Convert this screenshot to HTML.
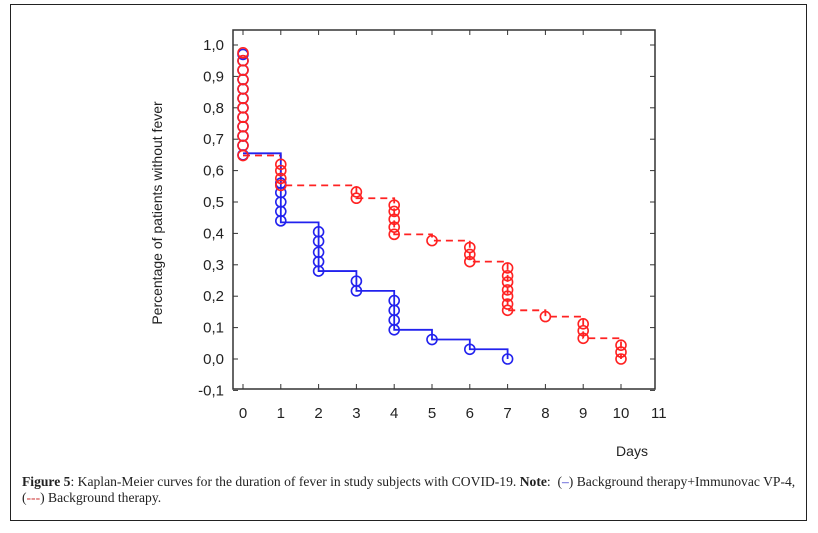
<!DOCTYPE html>
<html><head><meta charset="utf-8"><style>
body{margin:0;background:#fff;width:818px;height:533px;overflow:hidden}
#box{position:absolute;left:10px;top:4px;width:797px;height:517px;border:1px solid #222;box-sizing:border-box}
#cap{position:absolute;left:22px;top:474px;width:790px;font:13.6px "Liberation Serif",serif;line-height:16px;color:#222;white-space:nowrap}
</style></head><body>
<div id="box"></div>
<svg id="chart" width="818" height="533" style="position:absolute;left:0;top:0"></svg>
<div id="cap"><b>Figure 5</b>: Kaplan-Meier curves for the duration of fever in study subjects with COVID-19. <b>Note</b>: &nbsp;(<span style="color:#33c">–</span>) Background therapy+Immunovac VP-4,<br>(<span style="color:#c33">---</span>) Background therapy.</div>
<script>
const xTicks=[0,1,2,3,4,5,6,7,8,9,10,11];
const yTicks=[-0.1,0,0.1,0.2,0.3,0.4,0.5,0.6,0.7,0.8,0.9,1.0];
const blueStepT=[0,1,2,3,4,5,6,7];
const blueStepS=[0.655,0.435,0.28,0.217,0.093,0.062,0.031,0];
const blueCensT=[0,0,0,0,0,0,0,0,0,0,0,0,1,1,1,1,1,2,2,2,2,2,3,3,4,4,4,4,5,6,7];
const blueCensS=[0.65,0.68,0.71,0.74,0.77,0.8,0.83,0.86,0.89,0.92,0.95,0.97,0.44,0.47,0.5,0.53,0.56,0.28,0.31,0.34,0.375,0.405,0.217,0.248,0.093,0.124,0.155,0.186,0.062,0.031,0];
const redStepT=[0,1,3,4,5,6,7,8,9,10];
const redStepS=[0.648,0.553,0.512,0.397,0.377,0.31,0.155,0.135,0.066,0];
const redCensT=[0,0,0,0,0,0,0,0,0,0,0,0,1,1,1,1,3,3,4,4,4,4,4,5,6,6,6,7,7,7,7,7,7,7,8,9,9,9,10,10,10];
const redCensS=[0.648,0.68,0.71,0.74,0.77,0.8,0.83,0.86,0.89,0.92,0.95,0.975,0.553,0.575,0.6,0.62,0.512,0.532,0.397,0.42,0.445,0.47,0.49,0.377,0.31,0.333,0.355,0.155,0.175,0.2,0.22,0.245,0.265,0.29,0.135,0.066,0.09,0.112,0,0.022,0.044];
const svg=document.getElementById('chart');
const NS='http://www.w3.org/2000/svg';
const X=t=>243+t*37.8, Y=v=>359-v*314;
const L=233,R=655,T=30,B=389;
function mk(tag,a){const e=document.createElementNS(NS,tag);for(const k in a)e.setAttribute(k,a[k]);svg.appendChild(e);return e;}
let f=mk('rect',{x:L,y:T,width:R-L,height:B-T,fill:'none',stroke:'#333','stroke-width':1.5});


xTicks.forEach(t=>{
 const x=X(t);
 if(x<R){
 const a=mk('line',{x1:x,x2:x,y1:B,y2:B-5,stroke:'#333'});
 
 
 const b=mk('line',{x1:x,x2:x,y1:T,y2:T+5,stroke:'#333'});
 
 
 }
 const tx=mk('text',{x:x,y:418,'text-anchor':'middle','font-size':15,'font-family':'Liberation Sans, sans-serif',fill:'#222'});
 tx.textContent=t;
 
 
});
yTicks.forEach(v=>{
 const y=Y(v);
 const a=mk('line',{x1:L,x2:L+5,y1:y,y2:y,stroke:'#333'});
 
 
 const b=mk('line',{x1:R,x2:R-5,y1:y,y2:y,stroke:'#333'});
 
 
 const tx=mk('text',{x:224,y:y+5,'text-anchor':'end','font-size':15,'font-family':'Liberation Sans, sans-serif',fill:'#222'});
 tx.textContent=v.toFixed(1).replace('.',',');
 
 
});
const yt=mk('text',{x:0,y:0,transform:'translate(162,213) rotate(-90)','text-anchor':'middle','font-size':14,'font-family':'Liberation Sans, sans-serif',fill:'#222'});
yt.textContent='Percentage of patients without fever';


const xt=mk('text',{x:632,y:456,'text-anchor':'middle','font-size':14,'font-family':'Liberation Sans, sans-serif',fill:'#222'});
xt.textContent='Days';


function steps(T,S){let d='M'+X(T[0])+','+Y(S[0]);for(let i=1;i<T.length;i++){d+=' H'+X(T[i])+' V'+Y(S[i]);}return d;}
const rp=mk('path',{d:steps(redStepT,redStepS),fill:'none',stroke:'#f22','stroke-width':1.8,'stroke-dasharray':'7,5'});


const bp=mk('path',{d:steps(blueStepT,blueStepS),fill:'none',stroke:'#22e','stroke-width':1.8});


blueCensT.forEach((t,i)=>{
 const c=mk('circle',{cx:X(t),cy:Y(blueCensS[i]),r:5,fill:'none',stroke:'#22e','stroke-width':1.6});
 
 
});
redCensT.forEach((t,i)=>{
 const c=mk('circle',{cx:X(t),cy:Y(redCensS[i]),r:5,fill:'none',stroke:'#f22','stroke-width':1.6});
 
 
});
</script>
</body></html>
